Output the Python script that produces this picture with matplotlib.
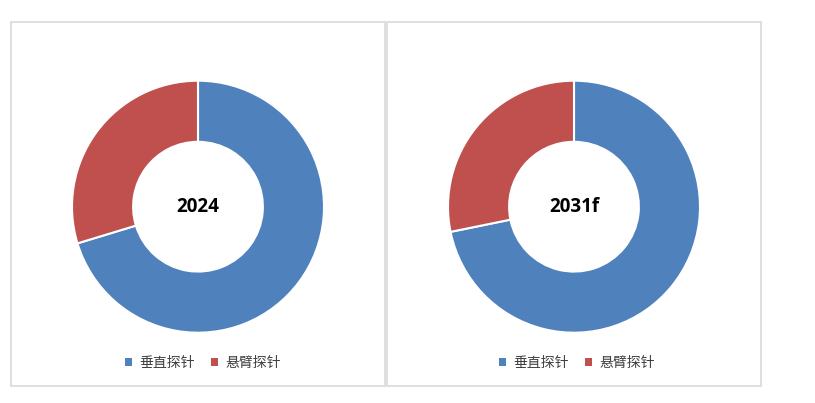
import matplotlib.pyplot as plt
from matplotlib.patches import Rectangle, Patch

plt.rcParams['font.family'] = ['Noto Sans CJK SC', 'DejaVu Sans']

# data (share, %)
labels = ['垂直探针', '悬臂探针']
years = ['2024', '2031f']
share_2024 = [70.3, 29.7]
share_2031 = [71.8, 28.2]
colors = ['#4F81BD', '#C0504D']

W, H = 815, 403
fig = plt.figure(figsize=(W / 100, H / 100), dpi=100)

def fx(px):
    return px / W

def fy(py):
    return (H - py) / H

# panel frames
for x0, x1 in [(10.7, 385), (386.7, 761)]:
    fig.patches.append(Rectangle((fx(x0), fy(386)), fx(x1 - x0), (386 - 21.7) / H,
                                 transform=fig.transFigure, fill=False,
                                 edgecolor='#D9D9D9', linewidth=1.2))

panels = [(198, share_2024, years[0], 203), (574, share_2031, years[1], 577)]
r = 126
for cx, vals, year, lx in panels:
    cy = 206.7
    ax = fig.add_axes([fx(cx - r), fy(cy + r), 2 * r / W, 2 * r / H])
    ax.pie(vals, colors=colors, startangle=90, counterclock=False, radius=1,
           wedgeprops=dict(width=0.485, edgecolor='white', linewidth=1.5))
    ax.set_xlim(-1, 1)
    ax.set_ylim(-1, 1)
    ax.text(0, 0, year, ha='center', va='center', fontsize=13.5, fontweight='bold',
            family=['Open Sans', 'DejaVu Sans'])
    handles = [Patch(facecolor=c, edgecolor='none') for c in colors]
    fig.legend(handles, labels, loc='center', bbox_to_anchor=(fx(lx), fy(363)),
               ncol=2, frameon=False, fontsize=10, handlelength=0.5, handleheight=0.5,
               handletextpad=0.5, columnspacing=1.2, labelcolor='#404040')

fig.savefig('out.png', dpi=100)
